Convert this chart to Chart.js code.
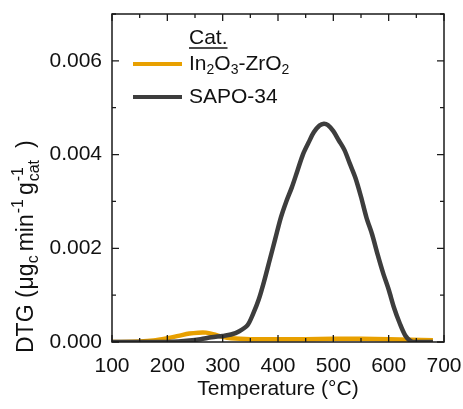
<!DOCTYPE html>
<html>
<head>
<meta charset="utf-8">
<script src="https://cdn.jsdelivr.net/npm/chart.js@4"></script>
<style>
  html, body { margin: 0; padding: 0; background: #fff; }
  #wrap { width: 463px; height: 409px; }
</style>
</head>
<body>
<div id="wrap"><canvas id="grafico"></canvas></div>
<script>
// datos
const tempSapo = [100, 150, 200, 220, 240, 260, 280, 300, 315, 330, 345, 355, 365, 375, 385, 395, 405, 415, 425, 435, 445, 455, 465, 475, 483, 490, 500, 510, 520, 530, 540, 550, 560, 570, 580, 590, 600, 610, 620, 630, 640, 650, 680];
const dtgSapo = [0, 0, 0, 0.00001, 0.00003, 0.00006, 0.0001, 0.00013, 0.00016, 0.00023, 0.00036, 0.0006, 0.0009, 0.0013, 0.00175, 0.0022, 0.00265, 0.003, 0.0033, 0.00365, 0.004, 0.00425, 0.00448, 0.00462, 0.00466, 0.00463, 0.0045, 0.0043, 0.0041, 0.0038, 0.0035, 0.0031, 0.00265, 0.0023, 0.00187, 0.00147, 0.00112, 0.00072, 0.0004, 0.00014, 0.00002, 0, 0];

const tempInZr = [100, 150, 175, 200, 220, 240, 256, 270, 285, 300, 315, 350, 400, 450, 500, 550, 600, 640, 680];
const dtgInZr = [0, 0.00001, 0.00003, 0.00008, 0.00013, 0.00018, 0.0002, 0.0002, 0.00016, 0.00011, 0.00008, 0.00006, 0.00006, 0.00006, 0.00007, 0.00007, 0.00006, 0.00005, 0.00004];

const xTicksLabels = [100, 200, 300, 400, 500, 600, 700];
const yTicksLabels = [0, 0.002, 0.004, 0.006];

const FUENTE = "'Liberation Sans', Arial, sans-serif";
const NARANJA = '#e8a000';
const GRIS = '#3d3d3d';

const aPuntos = (xs, ys) => xs.map((x, i) => ({ x, y: ys[i] }));

// marco, ticks hacia dentro, leyenda y titulo Y
const decoracion = {
  id: 'decoracion',
  afterDraw(chart) {
    const { ctx, chartArea: a, scales: { x, y } } = chart;
    ctx.save();
    ctx.strokeStyle = '#1a1a1a';
    ctx.lineWidth = 1.5;
    ctx.strokeRect(a.left, a.top, a.right - a.left, a.bottom - a.top);

    ctx.lineWidth = 1.3;
    ctx.beginPath();
    x.ticks.forEach(t => {
      const px = x.getPixelForValue(t.value);
      const len = t.value % 100 === 0 ? 7 : 4;
      ctx.moveTo(px, a.bottom); ctx.lineTo(px, a.bottom - len);
      ctx.moveTo(px, a.top); ctx.lineTo(px, a.top + len);
    });
    y.ticks.forEach(t => {
      const py = y.getPixelForValue(t.value);
      const mayor = Math.abs(t.value / 0.002 - Math.round(t.value / 0.002)) < 1e-6;
      const len = mayor ? 7 : 4;
      ctx.moveTo(a.left, py); ctx.lineTo(a.left + len, py);
      ctx.moveTo(a.right, py); ctx.lineTo(a.right - len, py);
    });
    ctx.stroke();

    // leyenda
    ctx.fillStyle = '#111';
    ctx.textBaseline = 'middle';
    ctx.font = `21px ${FUENTE}`;
    ctx.fillText('Cat.', 189, 38);
    const wCat = ctx.measureText('Cat.').width;
    ctx.lineWidth = 1.3;
    ctx.strokeStyle = '#111';
    ctx.beginPath(); ctx.moveTo(189, 48); ctx.lineTo(189 + wCat, 48); ctx.stroke();

    ctx.lineWidth = 4;
    ctx.strokeStyle = NARANJA;
    ctx.beginPath(); ctx.moveTo(133, 64); ctx.lineTo(182, 64); ctx.stroke();
    ctx.strokeStyle = GRIS;
    ctx.beginPath(); ctx.moveTo(133, 97); ctx.lineTo(182, 97); ctx.stroke();

    const texto = (partes, x0, y0) => {
      let cx = x0;
      partes.forEach(([s, tipo]) => {
        const tam = tipo ? 14 : 21;
        const dy = tipo === 'sub' ? 6 : tipo === 'sup' ? -8 : 0;
        ctx.font = `${tam}px ${FUENTE}`;
        ctx.fillText(s, cx, y0 + dy);
        cx += ctx.measureText(s).width;
      });
    };
    texto([['In'], ['2', 'sub'], ['O'], ['3', 'sub'], ['-ZrO'], ['2', 'sub']], 189, 64);
    texto([['SAPO-34']], 189, 97);

    // titulo del eje Y con subindices (de abajo hacia arriba)
    ctx.translate(27, 353);
    ctx.rotate(-Math.PI / 2);
    const escribe = (s, tam, pos, dy) => {
      ctx.font = `${tam}px ${FUENTE}`;
      ctx.fillText(s, pos, dy);
      return pos + ctx.measureText(s).width;
    };
    let p = escribe('DTG (', 23, 0, 0);
    p = escribe('\u03bcg', 23, p + 1, 0);
    p = escribe('c', 16, p, 7);
    p = escribe('min', 23, p + 4, 0);
    p = escribe('-1', 16, p + 1, -8);
    p = escribe('g', 23, p + 4, 0);
    const p2 = escribe('-1', 16, p + 1, -8);
    p = escribe('cat', 16, p + 1, 8);
    escribe(')', 23, Math.max(p, p2) + 12, 0);
    ctx.restore();
  }
};

new Chart(document.getElementById('grafico').getContext('2d'), {
  type: 'line',
  data: {
    datasets: [
      { label: 'SAPO-34', data: aPuntos(tempSapo, dtgSapo), borderColor: GRIS, borderWidth: 4.5, pointRadius: 0, tension: 0.3, fill: false },
      { label: 'In2O3-ZrO2', data: aPuntos(tempInZr, dtgInZr), borderColor: NARANJA, borderWidth: 4.5, pointRadius: 0, tension: 0.3, fill: false }
    ]
  },
  options: {
    responsive: true,
    maintainAspectRatio: false,
    animation: false,
    layout: { padding: { top: 14, right: 19, left: 0, bottom: 0 } },
    plugins: { legend: { display: false }, tooltip: { enabled: false } },
    scales: {
      x: {
        type: 'linear', min: 100, max: 700,
        grid: { display: false, drawTicks: false },
        border: { display: false },
        ticks: {
          stepSize: 50, padding: 12, color: '#111', maxRotation: 0, autoSkip: false,
          font: { family: FUENTE, size: 21 },
          callback: v => (xTicksLabels.includes(v) ? String(v) : '')
        },
        title: { display: true, text: 'Temperature (\u00b0C)', color: '#111', font: { family: FUENTE, size: 21 }, padding: { top: 0, bottom: 7 } },
        afterFit: s => { s.height = 67; s.paddingLeft = 0; s.paddingRight = 0; }
      },
      y: {
        min: 0, max: 0.007,
        grid: { display: false, drawTicks: false },
        border: { display: false },
        ticks: {
          stepSize: 0.001, padding: 10, color: '#111', autoSkip: false,
          font: { family: FUENTE, size: 21 },
          callback: v => (yTicksLabels.some(t => Math.abs(t - v) < 1e-9) ? v.toFixed(3) : '')
        },
        afterFit: s => { s.width = 112; s.paddingTop = 0; s.paddingBottom = 0; }
      }
    }
  },
  plugins: [decoracion]
});
</script>
</body>
</html>
